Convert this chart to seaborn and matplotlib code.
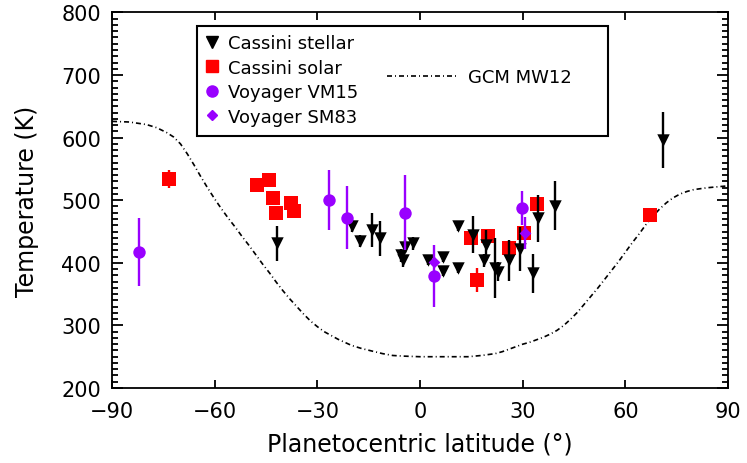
import matplotlib
matplotlib.use("Agg")
import matplotlib.pyplot as plt
import seaborn as sns
import pandas as pd
from matplotlib.lines import Line2D
from matplotlib.patches import Rectangle
from matplotlib.ticker import MultipleLocator

# ---------------- data ----------------
stellar_lat = [-41.7, -20.0, -17.5, -14.1, -11.7, -5.1, -5.6, -4.4, -2.2, 2.2,
               6.6, 6.6, 11.0, 11.2, 15.6, 19.3, 18.6, 21.9, 22.7, 26.1,
               29.2, 33.1, 34.4, 39.5, 71.0]
stellar_T = [431, 459, 435, 452, 439, 404, 412, 426, 431, 405,
             410, 387, 459, 391, 445, 428, 404, 392, 386, 404,
             422, 383, 471, 491, 596]
stellar_err = [28, 10, 10, 27, 28, 10, 10, 10, 10, 8,
               8, 8, 8, 8, 30, 25, 10, 48, 15, 33,
               35, 31, 37, 39, 45]

solar_lat = [-73.4, -47.6, -44.2, -42.9, -42.2, -37.8, -36.8, 14.9, 16.6, 19.8,
             26.1, 30.3, 34.1, 67.1]
solar_T = [534, 525, 532, 504, 479, 495, 483, 440, 373, 443,
           423, 447, 494, 477]
solar_err = [15, 8, 6, 6, 6, 6, 6, 6, 19, 6,
             6, 6, 6, 4]

vm15_lat = [-82.0, -26.6, -21.2, -4.4, 4.1, 29.7]
vm15_T = [417, 500, 472, 480, 379, 488]
vm15_err = [54, 48, 50, 60, 50, 27]

sm83_lat = [4.1, 30.8]
sm83_T = [402, 448]
sm83_err = [5, 26]

gcm_lat = [-90, -85, -80, -77, -74, -72, -70, -68, -66, -64, -62, -60, -58, -56,
           -54, -52, -50, -48, -46, -44, -42, -40, -38, -36, -34, -32, -30, -28,
           -26, -24, -22, -20, -17, -14, -11, -8, -5, 0, 8, 14, 18, 22, 24, 26,
           28, 30, 32, 34, 36, 38, 40, 42, 44, 46, 48, 50, 52, 54, 56, 58, 60,
           62, 64, 66, 68, 70, 72, 74, 76, 78, 80, 84, 90]
gcm_T = [626, 625, 621, 616, 608, 601, 590, 574, 556, 537, 519, 502, 486, 471,
         457, 442, 428, 413, 398, 384, 369, 355, 342, 330, 318, 307, 298, 290,
         284, 278, 273, 268, 263, 259, 255, 252, 251, 250, 250, 250, 252, 255, 258, 262,
         266, 270, 273, 277, 281, 286, 292, 300, 310, 321, 334, 347, 360, 374, 388, 402, 417,
         432, 446, 461, 474, 486, 496, 504, 510, 514, 517, 520, 523]

labels = ["Cassini stellar", "Cassini solar", "Voyager VM15", "Voyager SM83", "GCM MW12"]

RED = "#ff0000"
PURPLE = "#9900ff"

# ---------------- style ----------------
sns.set_style("ticks")
plt.rcParams["font.family"] = ["DejaVu Sans"]
plt.rcParams.update({
    "axes.linewidth": 1.3,
    "axes.edgecolor": "black",
    "axes.labelcolor": "black",
    "text.color": "black",
    "xtick.color": "black",
    "ytick.color": "black",
})

fig, ax = plt.subplots(figsize=(7.47, 4.64), dpi=100)
fig.subplots_adjust(left=0.150, right=0.9746, top=0.971, bottom=0.1616)

# GCM curve
gcm = pd.DataFrame({"lat": gcm_lat, "T": gcm_T})
sns.lineplot(data=gcm, x="lat", y="T", sort=False, color="black", lw=1.2, ax=ax)
gline = ax.lines[-1]
gline.set_dashes((3, 1.8, 0.6, 1.8))
gline.set_zorder(2)

def series(lat, T, err, color, marker, s, z):
    ax.errorbar(lat, T, yerr=err, fmt="none", ecolor=color, elinewidth=1.7,
                capsize=0, zorder=z)
    df = pd.DataFrame({"lat": lat, "T": T})
    sns.scatterplot(data=df, x="lat", y="T", marker=marker, s=s, color=color,
                    linewidth=0, ax=ax, zorder=z + 0.1, legend=False)

series(solar_lat, solar_T, solar_err, RED, "s", 90, 3)
series(stellar_lat, stellar_T, stellar_err, "black", "v", 80, 4)
series(vm15_lat, vm15_T, vm15_err, PURPLE, "o", 80, 5)
series(sm83_lat, sm83_T, sm83_err, PURPLE, "D", 36, 6)

ax.set_xlim(-90, 90)
ax.set_ylim(200, 800)
ax.set_xticks(range(-90, 91, 30))
ax.set_yticks(range(200, 801, 100))
ax.yaxis.set_minor_locator(MultipleLocator(10))
ax.tick_params(which="both", direction="in", top=True, right=True, width=1.3)
ax.tick_params(axis="x", which="major", length=6, labelsize=15, pad=9)
ax.tick_params(axis="y", which="major", length=8, labelsize=15, pad=8)
ax.tick_params(axis="y", which="minor", length=4.5)
ax.set_xlabel("Planetocentric latitude (°)", fontsize=17, labelpad=8)
ax.set_ylabel("Temperature (K)", fontsize=17, labelpad=16)

# legend box
ax.add_patch(Rectangle((0.138, 0.671), 0.667, 0.293, transform=ax.transAxes,
                       fill=True, facecolor="white", edgecolor="black", lw=1.5, zorder=10))
h1 = [Line2D([], [], ls="none", marker="v", color="black", ms=8),
      Line2D([], [], ls="none", marker="s", color=RED, ms=8.5),
      Line2D([], [], ls="none", marker="o", color=PURPLE, ms=8),
      Line2D([], [], ls="none", marker="D", color=PURPLE, ms=5.5)]
leg1 = ax.legend(h1, labels[:4], loc="upper left", bbox_to_anchor=(0.142, 0.952),
                 frameon=False, fontsize=13, handlelength=1.0, handletextpad=0.4,
                 labelspacing=0.36, borderpad=0.2, borderaxespad=0)
leg1.set_zorder(11)
ax.add_artist(leg1)
h2 = [Line2D([], [], color="black", lw=1.2, dashes=(3, 1.8, 0.6, 1.8))]
leg2 = ax.legend(h2, labels[4:], loc="center left", bbox_to_anchor=(0.44, 0.828),
                 frameon=False, fontsize=13, handlelength=3.9, handletextpad=0.6,
                 borderpad=0.2, borderaxespad=0)
leg2.set_zorder(11)

fig.savefig("out.png", dpi=100)
